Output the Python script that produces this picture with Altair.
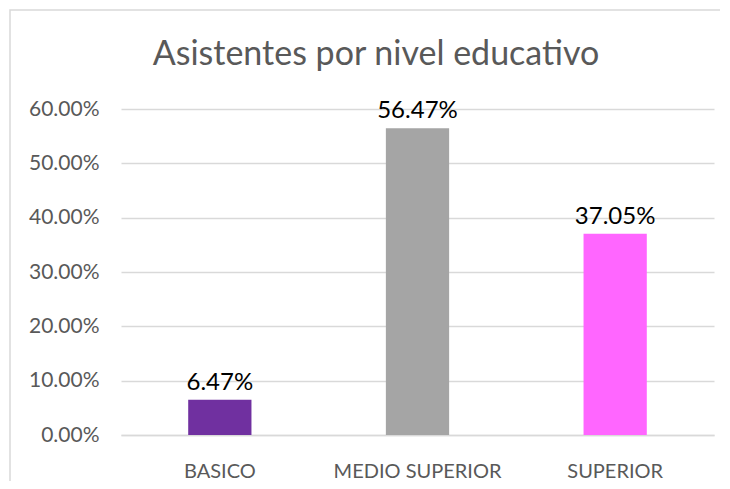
import altair as alt
import pandas as pd

categories = ["BASICO", "MEDIO SUPERIOR", "SUPERIOR"]
values = [0.0647, 0.5647, 0.3705]
colors = ["#7030A0", "#A5A5A5", "#FF66FF"]
y_ticks = [0.0, 0.1, 0.2, 0.3, 0.4, 0.5, 0.6]
title_text = "Asistentes por nivel educativo"

df = pd.DataFrame({"cat": categories, "v": values})
one_df = pd.DataFrame({"t": [title_text]})

FONT = "Lato"
GRID = "#D9D9D9"
TXT = "#595959"

x_enc = alt.X(
    "cat:N",
    sort=categories,
    scale=alt.Scale(paddingInner=0.68, paddingOuter=0.34),
    axis=alt.Axis(
        title=None, labelAngle=0, labelFont=FONT, labelFontSize=20,
        labelColor=TXT, ticks=False, domain=True, domainColor=GRID,
        domainWidth=1.5, labelPadding=26, grid=False,
    ),
)

y_enc = alt.Y(
    "v:Q",
    scale=alt.Scale(domain=[0, 0.6], nice=False),
    axis=alt.Axis(
        title=None, format=".2%", values=y_ticks, grid=True, gridColor=GRID,
        gridWidth=1.5, domain=False, ticks=False, labelPadding=22,
        labelFont=FONT, labelFontSize=21, labelColor=TXT,
    ),
)

frame = alt.Chart(one_df).mark_rect(
    fill="white", fillOpacity=0, stroke=GRID, strokeWidth=1.5
).encode(
    x=alt.value(-111), x2=alt.value(640), y=alt.value(-99), y2=alt.value(520)
)

title = alt.Chart(one_df).mark_text(
    font=FONT, fontSize=34, color=TXT, align="center", baseline="alphabetic"
).encode(
    x=alt.value(255), y=alt.value(-44), text="t:N"
)

bars = alt.Chart(df).mark_bar().encode(
    x=x_enc,
    y=y_enc,
    color=alt.Color("cat:N", scale=alt.Scale(domain=categories, range=colors), legend=None),
)

labels = alt.Chart(df).mark_text(
    baseline="alphabetic", dy=-10, font=FONT, fontSize=24, color="black"
).encode(
    x=alt.X("cat:N", sort=categories),
    y=alt.Y("v:Q"),
    text=alt.Text("v:Q", format=".2%"),
)

chart = alt.layer(frame, title, bars, labels).properties(
    width=593,
    height=326,
    autosize="none",
    background="white",
    padding={"left": 113, "top": 101, "right": 6, "bottom": 46},
).configure_view(stroke="transparent", strokeWidth=0)

chart.save("out.html", embed_options={"renderer": "svg", "actions": False})
